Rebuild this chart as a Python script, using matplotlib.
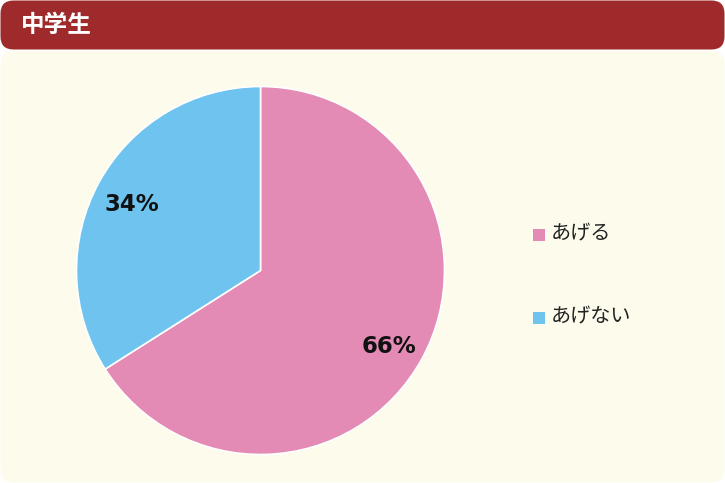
import matplotlib.pyplot as plt
from matplotlib.patches import FancyBboxPatch, Rectangle

plt.rcParams['font.family'] = ['Noto Sans CJK JP', 'DejaVu Sans']

title = '中学生'
labels = ['あげる', 'あげない']
values = [66, 34]
colors = ['#e48bb5', '#6ec3ef']

W, H = 725, 483
fig = plt.figure(figsize=(W / 100, H / 100), dpi=100)
fig.patch.set_facecolor('white')

# background panels in pixel coords
bg = fig.add_axes([0, 0, 1, 1])
bg.set_xlim(0, W)
bg.set_ylim(H, 0)
bg.axis('off')
bg.add_patch(FancyBboxPatch((0.5, 0.5), W - 1, 49, boxstyle='round,pad=0,rounding_size=13',
                            fc='#9e2a2b', ec='none'))
bg.add_patch(FancyBboxPatch((0.5, 51), W - 1, H - 51.5, boxstyle='round,pad=0,rounding_size=13',
                            fc='#fdfbec', ec='none'))
bg.text(21, 25, title, color='white', fontsize=17, fontweight='bold', va='center', ha='left')

# legend
for i, lab in enumerate(labels):
    y = 235 + i * 83
    bg.add_patch(Rectangle((533, y - 6), 12, 12, fc=colors[i], ec='none'))
    bg.text(551, y - 1, lab, fontsize=14.5, va='center', ha='left', color='#222222')

# pie
cx, cy, r = 260.5, 270.5, 184
ax = fig.add_axes([(cx - r) / W, (H - cy - r) / H, 2 * r / W, 2 * r / H])
wedges, texts, autotexts = ax.pie(values, colors=colors, startangle=90, counterclock=False,
                                  autopct='%d%%', pctdistance=0.8,
                                  wedgeprops=dict(edgecolor='white', linewidth=1.2))
for t in autotexts:
    x, y = t.get_position()
    t.set_position((x, y - 5 / r))
    t.set_fontsize(16.5)
    t.set_fontweight('bold')
    t.set_color('#111111')
    t.set_fontfamily('DejaVu Sans')
ax.set_xlim(-1, 1)
ax.set_ylim(-1, 1)
ax.set_aspect('equal')

fig.savefig('out.png', dpi=100, facecolor='white')
